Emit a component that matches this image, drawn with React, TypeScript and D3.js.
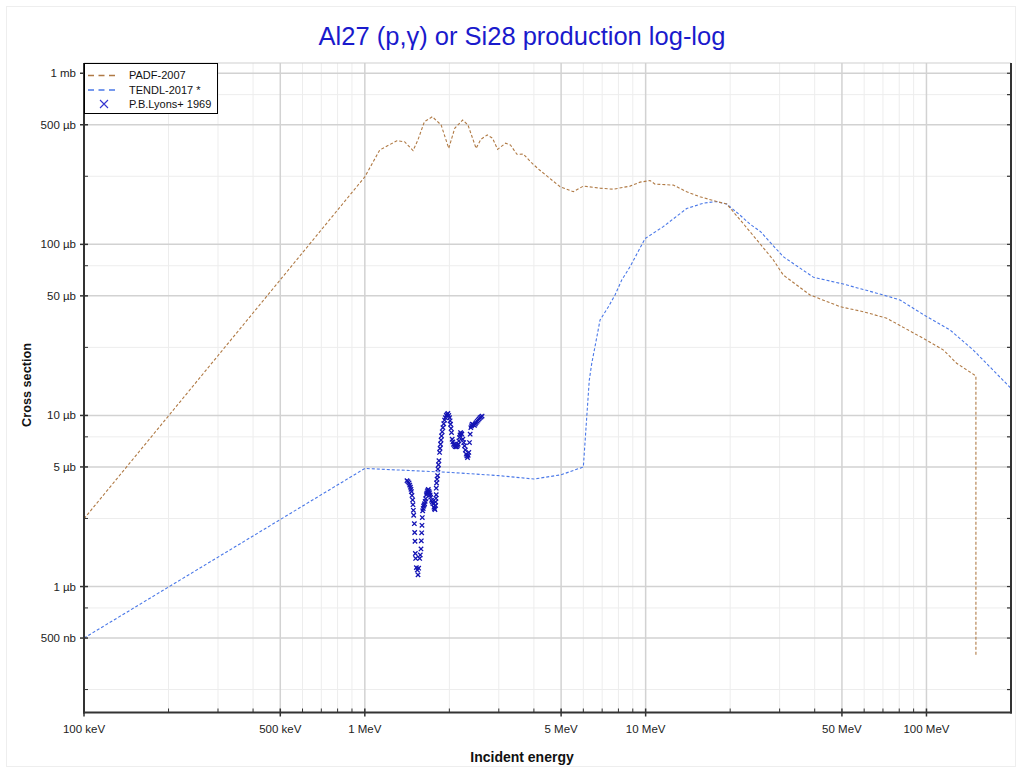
import React, { useRef, useEffect } from 'react';
import * as d3 from 'd3';

// energies in MeV, cross sections in µb
const padfEnergy = [
  0.1, 1.0, 1.13, 1.3, 1.385, 1.485, 1.545, 1.63, 1.74, 1.87, 1.99, 2.09, 2.23, 2.33, 2.49,
  2.59, 2.73, 2.85, 2.97, 3.17, 3.3, 3.48, 3.67, 3.92, 4.19, 4.96, 5.53, 6.0, 6.88, 7.67, 8.8,
  9.55, 10.37, 10.8, 12.55, 14.0, 15.6, 17.9, 19.45, 21.7, 24.9, 28.5, 30.9, 38.5, 49.3, 59.6,
  72.2, 97.5, 115, 128, 150, 150.01
];
const padfXs = [
  2.49, 248, 356, 403, 398, 353, 407, 521, 557, 498, 364, 477, 533, 498, 364,
  411, 436, 417, 359, 390, 381, 336, 337, 300, 272, 217, 203, 219, 213, 210, 219,
  231, 236, 225, 222, 203, 190, 178, 172, 139, 106, 81, 66.2, 50.6, 43.2, 40.4,
  37.0, 28.2, 24.1, 20.2, 17.0, 0.389
];

const tendlEnergy = [
  0.1, 1.0, 2.0, 3.0, 4.0, 5.0, 6.0, 6.17, 6.3, 6.43, 6.6, 6.88, 7.37, 7.78, 8.22, 8.8, 9.95,
  11.56, 14.0, 16.05, 17.9, 19.45, 21.7, 23.5, 25.6, 30.9, 39.6, 50.6, 70.2, 80.5, 100.2, 121.3,
  146.9, 200
];
const tendlXs = [
  0.5, 4.9, 4.65, 4.45, 4.25, 4.5, 5.0, 9.8, 16.1, 20.2, 25.2, 36.1, 43.2, 50.6, 61.9, 74, 108,
  127, 162, 174, 178, 172, 148, 131.5, 119, 84.7, 64.2, 58.6, 50.6, 47.3, 37.8, 31.6,
  24.1, 14.4
];

const lyonsEnergy = [
  1.413, 1.425, 1.437, 1.445, 1.453, 1.46, 1.465, 1.472, 1.48, 1.484, 1.489, 1.493, 1.501, 1.505,
  1.509, 1.513, 1.517, 1.526, 1.538, 1.547, 1.555, 1.568, 1.576, 1.585, 1.589, 1.594, 1.598,
  1.602, 1.607, 1.614, 1.62, 1.627, 1.633, 1.64, 1.647, 1.656, 1.662, 1.669, 1.676, 1.683, 1.692,
  1.701, 1.708, 1.715, 1.729, 1.738, 1.748, 1.762, 1.77, 1.777, 1.787, 1.787, 1.792, 1.796, 1.796,
  1.801, 1.808, 1.816, 1.821, 1.829, 1.836, 1.846, 1.853, 1.861, 1.868, 1.876, 1.886, 1.897,
  1.91, 1.923, 1.936, 1.95, 1.963, 1.976, 1.99, 2.003, 2.012, 2.02, 2.028, 2.036, 2.047, 2.058,
  2.07, 2.084, 2.098, 2.112, 2.127, 2.138, 2.15, 2.162, 2.174, 2.183, 2.192, 2.204, 2.216, 2.234,
  2.25, 2.265, 2.28, 2.296, 2.308, 2.321, 2.334, 2.346, 2.359, 2.372, 2.385, 2.398, 2.411, 2.435,
  2.458, 2.475, 2.491, 2.512, 2.532, 2.553, 2.574, 2.595, 2.616
];
const lyonsXs = [
  4.16, 4.1, 4.03, 3.92, 3.81, 3.7, 3.59, 3.41, 3.21, 3.01, 2.79, 2.61, 2.33, 2.07,
  1.84, 1.56, 1.46, 1.29, 1.25, 1.17, 1.28, 1.46, 1.53, 1.66, 1.85, 2.06, 2.28,
  2.53, 2.77, 2.86, 2.95, 3.0, 3.05, 3.15, 3.26, 3.44, 3.52, 3.59, 3.65, 3.69, 3.6,
  3.53, 3.43, 3.33, 3.19, 3.12, 3.05, 2.91, 2.86, 2.82, 2.98, 3.12, 3.28, 3.44, 3.76,
  4.03, 4.24, 4.45, 4.86, 5.15, 5.44, 6.08, 6.42, 6.79, 7.18, 7.59, 8.02, 8.49,
  8.94, 9.4, 9.7, 10.01, 10.15, 10.28, 10.0, 9.7, 9.3, 8.88, 8.4, 7.94, 7.26, 7.0,
  6.79, 6.68, 6.58, 6.56, 6.58, 6.68, 6.79, 7.1, 7.43, 7.7, 7.94, 7.85, 7.77, 7.26,
  6.94, 6.64, 6.28, 5.94, 5.8, 5.68, 5.85, 6.08, 6.94, 7.77, 8.49, 8.7, 8.88, 8.82,
  8.76, 8.92, 9.08, 9.24, 9.4, 9.55, 9.7, 9.8, 9.92
];

const xMajorTicks = [0.1, 0.5, 1, 5, 10, 50, 100];
const xTickLabels = ['100 keV', '500 keV', '1 MeV', '5 MeV', '10 MeV', '50 MeV', '100 MeV'];
const xMinorTicks = [
  0.2, 0.3, 0.4, 0.6, 0.7, 0.8, 0.9, 2, 3, 4, 6, 7, 8, 9, 20, 30, 40, 60, 70, 80, 90
];
const yMajorTicks = [0.5, 1, 5, 10, 50, 100, 500, 1000];
const yTickLabels = ['500 nb', '1 µb', '5 µb', '10 µb', '50 µb', '100 µb', '500 µb', '1 mb'];
const yMinorTicks = [0.25, 0.75, 2.5, 7.5, 25, 75, 250, 750];

const seriesNames = ['PADF-2007', 'TENDL-2017 *', 'P.B.Lyons+ 1969'];
const seriesColors = ['#b07a45', '#4a78e8', '#1414b4'];

const App: React.FC = () => {
  const chartRef = useRef<SVGSVGElement | null>(null);

  useEffect(() => {
    if (!chartRef.current) return;
    const svg = d3.select(chartRef.current);
    svg.selectAll('*').remove();

    const font = 'Liberation Sans, Arial, Helvetica, sans-serif';
    const left = 84, right = 1011, top = 63, bottom = 712.5;

    const x = d3.scaleLog().domain([0.1, 200]).range([left, right]);
    const y = d3.scaleLog().domain([0.1836, 1148]).range([bottom, top]);

    svg.append('rect').attr('width', 1022).attr('height', 773).attr('fill', '#fff');
    svg.append('rect').attr('x', 6.5).attr('y', 6.5).attr('width', 1009).attr('height', 760)
      .attr('fill', 'none').attr('stroke', '#eeeeee');

    // grid
    const grid = svg.append('g');
    grid.selectAll('line.xminor').data(xMinorTicks).join('line')
      .attr('x1', d => x(d)).attr('x2', d => x(d)).attr('y1', top).attr('y2', bottom)
      .attr('stroke', '#ededed').attr('stroke-width', 1);
    grid.selectAll('line.yminor').data(yMinorTicks).join('line')
      .attr('x1', left).attr('x2', right).attr('y1', d => y(d)).attr('y2', d => y(d))
      .attr('stroke', '#ededed').attr('stroke-width', 1);
    grid.selectAll('line.xmajor').data(xMajorTicks).join('line')
      .attr('x1', d => x(d)).attr('x2', d => x(d)).attr('y1', top).attr('y2', bottom)
      .attr('stroke', '#d2d2d2').attr('stroke-width', 1.5);
    grid.selectAll('line.ymajor').data(yMajorTicks).join('line')
      .attr('x1', left).attr('x2', right).attr('y1', d => y(d)).attr('y2', d => y(d))
      .attr('stroke', '#d2d2d2').attr('stroke-width', 1.5);
    grid.append('line').attr('x1', left).attr('x2', right).attr('y1', top).attr('y2', top)
      .attr('stroke', '#cfcfcf').attr('stroke-width', 1);

    // clip
    svg.append('clipPath').attr('id', 'plotclip').append('rect')
      .attr('x', left).attr('y', top).attr('width', right - left).attr('height', bottom - top);

    const plot = svg.append('g').attr('clip-path', 'url(#plotclip)');
    const line = d3.line<[number, number]>().x(d => x(d[0])).y(d => y(d[1]));

    const padf = padfEnergy.map((e, i) => [e, padfXs[i]] as [number, number]);
    const tendl = tendlEnergy.map((e, i) => [e, tendlXs[i]] as [number, number]);
    const lyons = lyonsEnergy.map((e, i) => [e, lyonsXs[i]] as [number, number]);

    plot.append('path').datum(tendl).attr('d', line).attr('fill', 'none')
      .attr('stroke', seriesColors[1]).attr('stroke-width', 1.1).attr('stroke-dasharray', '3,2');
    plot.append('path').datum(padf).attr('d', line).attr('fill', 'none')
      .attr('stroke', seriesColors[0]).attr('stroke-width', 1.1).attr('stroke-dasharray', '3,2');

    const m = 2.2;
    plot.append('g').selectAll('path').data(lyons).join('path')
      .attr('d', d => {
        const cx = x(d[0]), cy = y(d[1]);
        return `M${cx - m},${cy - m}L${cx + m},${cy + m}M${cx - m},${cy + m}L${cx + m},${cy - m}`;
      })
      .attr('stroke', seriesColors[2]).attr('stroke-width', 1.3).attr('fill', 'none');

    // axes frame
    const axes = svg.append('g').attr('stroke', '#333');
    axes.append('line').attr('x1', left).attr('x2', left).attr('y1', top).attr('y2', bottom + 1)
      .attr('stroke-width', 2);
    axes.append('line').attr('x1', right).attr('x2', right).attr('y1', top).attr('y2', bottom + 1)
      .attr('stroke-width', 2);
    axes.append('line').attr('x1', left - 1).attr('x2', right + 1).attr('y1', bottom).attr('y2', bottom)
      .attr('stroke-width', 2);

    // ticks
    axes.selectAll('line.xt').data(xMajorTicks).join('line')
      .attr('x1', d => x(d)).attr('x2', d => x(d)).attr('y1', bottom - 4).attr('y2', bottom + 4)
      .attr('stroke-width', 1.5);
    axes.selectAll('line.xm').data(xMinorTicks).join('line')
      .attr('x1', d => x(d)).attr('x2', d => x(d)).attr('y1', bottom - 4).attr('y2', bottom)
      .attr('stroke-width', 1);
    axes.selectAll('line.yt').data(yMajorTicks).join('line')
      .attr('x1', left - 4).attr('x2', left + 4).attr('y1', d => y(d)).attr('y2', d => y(d))
      .attr('stroke-width', 1.5);
    axes.selectAll('line.ym').data(yMinorTicks).join('line')
      .attr('x1', left).attr('x2', left + 4).attr('y1', d => y(d)).attr('y2', d => y(d))
      .attr('stroke-width', 1);
    axes.selectAll('line.yr').data(yMajorTicks.concat(yMinorTicks)).join('line')
      .attr('x1', right - 4).attr('x2', right).attr('y1', d => y(d)).attr('y2', d => y(d))
      .attr('stroke-width', 1.2);

    // tick labels
    svg.append('g').selectAll('text').data(xMajorTicks).join('text')
      .attr('x', d => x(d)).attr('y', 733)
      .attr('text-anchor', 'middle').attr('font-family', font).attr('font-size', 11.5)
      .attr('fill', '#222').text((d, i) => xTickLabels[i]);
    svg.append('g').selectAll('text').data(yMajorTicks).join('text')
      .attr('x', 76).attr('y', d => y(d)).attr('dy', '0.35em')
      .attr('text-anchor', 'end').attr('font-family', font).attr('font-size', 11.5)
      .attr('fill', '#222').text((d, i) => yTickLabels[i]);

    // titles
    svg.append('text').attr('x', 522).attr('y', 45).attr('text-anchor', 'middle')
      .attr('font-family', font).attr('font-size', 25.5).attr('fill', '#1a1acc')
      .text('Al27 (p,γ) or Si28 production log-log');
    svg.append('text').attr('x', 522).attr('y', 762).attr('text-anchor', 'middle')
      .attr('font-family', font).attr('font-size', 14).attr('font-weight', 'bold').attr('fill', '#111')
      .text('Incident energy');
    svg.append('text').attr('transform', 'translate(31,385) rotate(-90)').attr('text-anchor', 'middle')
      .attr('font-family', font).attr('font-size', 12.7).attr('font-weight', 'bold').attr('fill', '#111')
      .text('Cross section');

    // legend
    const lg = svg.append('g');
    lg.append('rect').attr('x', 84.5).attr('y', 63.5).attr('width', 133).attr('height', 50)
      .attr('fill', '#fff').attr('stroke', '#000').attr('stroke-width', 1);
    const rows = [75.5, 90, 104];
    seriesNames.forEach((name, i) => {
      if (i < 2) {
        lg.append('line').attr('x1', 88).attr('x2', 116).attr('y1', rows[i]).attr('y2', rows[i])
          .attr('stroke', seriesColors[i]).attr('stroke-width', 1.5).attr('stroke-dasharray', '6,4.5');
      } else {
        const cx = 104, cy = rows[i], s = 4;
        lg.append('path')
          .attr('d', `M${cx - s},${cy - s}L${cx + s},${cy + s}M${cx - s},${cy + s}L${cx + s},${cy - s}`)
          .attr('stroke', '#3535d0').attr('stroke-width', 1.1);
      }
      lg.append('text').attr('x', 129).attr('y', rows[i]).attr('dy', '0.35em')
        .attr('font-family', font).attr('font-size', 11).attr('fill', '#111').text(name);
    });
  }, []);

  return (
    <svg ref={chartRef} width={1022} height={773}
      style={{ position: 'absolute', left: 0, top: 0, display: 'block' }} />
  );
};

export default App;
